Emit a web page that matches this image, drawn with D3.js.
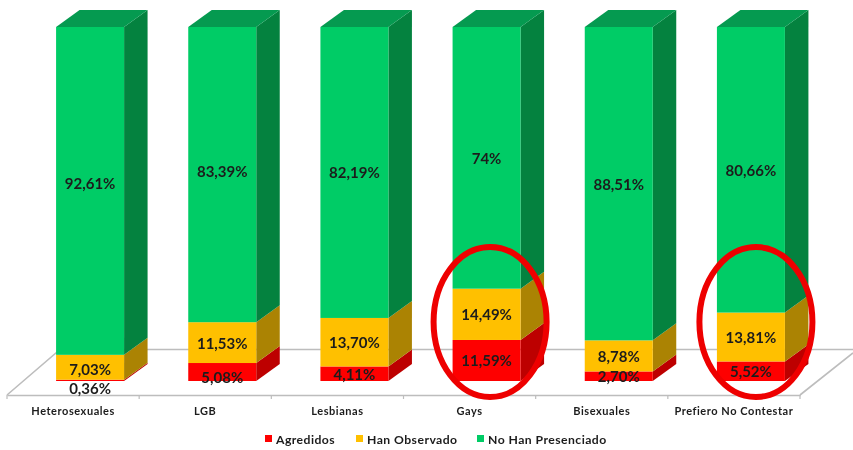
<!DOCTYPE html>
<html><head><meta charset="utf-8">
<script src="https://cdn.jsdelivr.net/npm/d3@7/dist/d3.min.js"></script>
<style>html,body{margin:0;padding:0;background:#fff}svg{display:block;filter:blur(0.35px)}text{font-family:Lato,"Open Sans",sans-serif;font-weight:700;fill:#1c1c1c}</style>
</head><body><svg id="c" width="853" height="450"></svg>
<script>
const categories = ["Heterosexuales","LGB","Lesbianas","Gays","Bisexuales","Prefiero No Contestar"];
const agredidos = [0.36,5.08,4.11,11.59,2.70,5.52];
const hanObservado = [7.03,11.53,13.70,14.49,8.78,13.81];
const noHanPresenciado = [92.61,83.39,82.19,74,88.51,80.66];
const seriesNames = ["Agredidos","Han Observado","No Han Presenciado"];
const highlighted = ["Gays","Prefiero No Contestar"];

const palette = [
  {front:"#fe0000",side:"#bd0000",top:"#bd0000"},
  {front:"#ffc000",side:"#ab8303",top:"#ab8303"},
  {front:"#00cc66",side:"#04823f",top:"#059a50"}
];
// Hand-placed label shifts of the original (series index|category index -> px)
const nudge = {"0|0":8,"1|0":2,"0|1":5,"2|0":-8,"2|1":-4};
const ellipseShift = {"Gays":3.5,"Prefiero No Contestar":5};

const svg = d3.select("#c");
const x = d3.scaleBand().domain(categories).range([7,800]);
const y = d3.scaleLinear().domain([0,100]).range([381,27]);
const barW = 68, barShift = 17, dx = 23.5, dy = 17;
const floorY = 395, backY = 349.5, axisColor = "#bdbdbd";

// floor
svg.append("path").attr("fill","none").attr("stroke",axisColor).attr("stroke-width",1.6)
  .attr("d",`M7,${floorY}L60,${backY}L853,${backY}M800,${floorY}L853,${floorY-42}`);

// axis with ticks between the categories
const ax = svg.append("g").attr("transform",`translate(0,${floorY})`)
  .call(d3.axisBottom(x).tickSize(0).tickPadding(12));
ax.select(".domain").attr("stroke",axisColor).attr("stroke-width",1.6);
ax.selectAll("text").style("font-size","11px").style("letter-spacing","0.55px").attr("fill","#1c1c1c");
svg.append("g").selectAll("line").data(categories.map(c=>x(c)).concat([x.range()[1]])).join("line")
  .attr("x1",d=>d).attr("x2",d=>d).attr("y1",floorY).attr("y2",floorY+4)
  .attr("stroke",axisColor).attr("stroke-width",1.2);

// stacked 3D bars
const rows = categories.map((c,i)=>({c,s0:agredidos[i],s1:hanObservado[i],s2:noHanPresenciado[i]}));
const stacked = d3.stack().keys(["s0","s1","s2"])(rows);
const labels = svg.append("g");
categories.forEach((c,ci)=>{
  const g = svg.append("g");
  const l = x(c)+x.bandwidth()/2+barShift-barW/2, r = l+barW;
  stacked.forEach((ser,si)=>{
    const y0 = y(ser[ci][0]), y1 = si===2 ? y(100) : y(ser[ci][1]);
    const p = palette[si];
    g.append("path").attr("fill",p.side)
      .attr("d",`M${r},${y0}L${r+dx},${y0-dy}L${r+dx},${y1-dy}L${r},${y1}Z`);
    g.append("rect").attr("x",l).attr("y",y1).attr("width",barW).attr("height",y0-y1).attr("fill",p.front);
    if(si===2) g.append("path").attr("fill",p.top)
      .attr("d",`M${l},${y1}L${l+dx},${y1-dy}L${r+dx},${y1-dy}L${r},${y1}Z`);
    const v = ser[ci].data["s"+si];
    labels.append("text").attr("x",(l+r)/2).attr("y",(y0+y1)/2+(nudge[si+"|"+ci]||0))
      .attr("text-anchor","middle").attr("dominant-baseline","central")
      .style("font-size","15px")
      .text(d3.format(".2f")(v).replace(".",",").replace(",00","")+"%");
  });
});
labels.raise();

// highlight ellipses
svg.append("g").selectAll("ellipse").data(highlighted).join("ellipse")
  .attr("cx",d=>x(d)+x.bandwidth()/2+barShift+ellipseShift[d])
  .attr("cy",322).attr("rx",56.5).attr("ry",75)
  .attr("fill","none").attr("stroke","#ee0000").attr("stroke-width",6);

// legend
const lx = [265,356,477];
const leg = svg.append("g").selectAll("g").data(seriesNames).join("g")
  .attr("transform",(d,i)=>`translate(${lx[i]},439)`);
leg.append("rect").attr("x",0).attr("y",-4).attr("width",7).attr("height",7).attr("fill",(d,i)=>palette[i].front);
leg.append("text").attr("x",11).attr("dominant-baseline","central").style("font-size","12.2px").style("letter-spacing","0.45px").text(d=>d);
</script></body></html>
